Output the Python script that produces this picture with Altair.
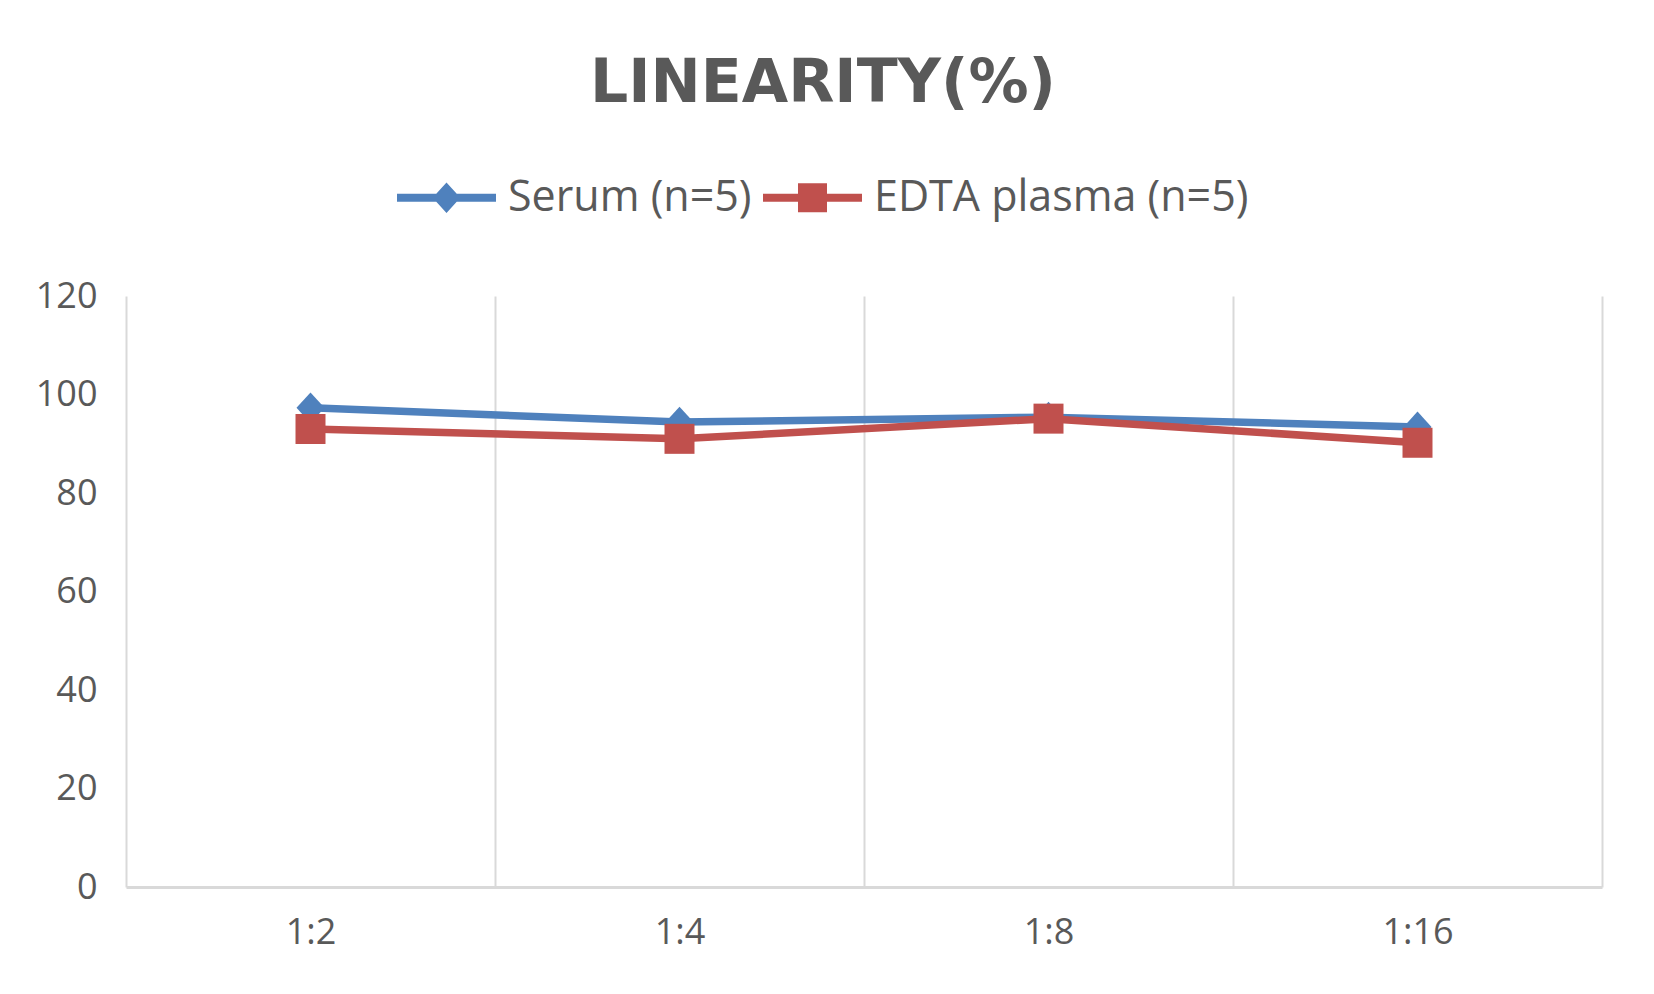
import altair as alt
import pandas as pd

dilutions = ["1:2", "1:4", "1:8", "1:16"]
serum = [97.3, 94.4, 95.4, 93.4]
edta = [93.0, 91.0, 95.1, 90.2]
series_names = ["Serum (n=5)", "EDTA plasma (n=5)"]
colors = ["#4F81BD", "#C0504D"]
y_ticks = [0, 20, 40, 60, 80, 100, 120]

rows = []
for name, vals in zip(series_names, [serum, edta]):
    for d, v in zip(dilutions, vals):
        rows.append({"dilution": d, "value": v, "series": name})
df = pd.DataFrame(rows)

TEXT = "#595959"
GRID = "#D9D9D9"

x_enc = alt.X(
    "dilution:N",
    sort=dilutions,
    scale=alt.Scale(type="band", paddingInner=0, paddingOuter=0),
    axis=alt.Axis(
        title=None, tickBand="extent", grid=True, gridColor=GRID, gridWidth=2,
        domainColor=GRID, domainWidth=3, ticks=False, labelAngle=0,
        labelFont="Open Sans", labelFontSize=36, labelColor=TEXT, labelPadding=28,
    ),
)
y_enc = alt.Y(
    "value:Q",
    scale=alt.Scale(domain=[0, 120], nice=False),
    axis=alt.Axis(
        title=None, values=y_ticks, grid=False, domain=False, ticks=False,
        labelFont="Open Sans", labelFontSize=36, labelColor=TEXT, labelPadding=29,
    ),
)

color_scale = alt.Scale(domain=series_names, range=colors)

base = alt.Chart(df)

lines = base.mark_line(strokeWidth=7.5, strokeCap="round", strokeJoin="round").encode(
    x=x_enc, y=y_enc,
    color=alt.Color("series:N", scale=color_scale, legend=None),
    order=alt.Order("x_order:Q"),
).transform_calculate(x_order="indexof(['1:2','1:4','1:8','1:16'], datum.dilution)")

points = base.mark_point(filled=True, opacity=1, strokeWidth=0).encode(
    x=x_enc, y=y_enc,
    color=alt.Color("series:N", scale=color_scale, legend=None),
    shape=alt.Shape(
        "series:N",
        scale=alt.Scale(domain=series_names,
                        range=["M0,-1.1L1,0L0,1.1L-1,0Z", "square"]),
        legend=None,
    ),
    size=alt.Size("series:N",
                  scale=alt.Scale(domain=series_names, range=[784, 900]),
                  legend=None),
)

legend_paths = [
    "M-1,-0.08L1,-0.08L1,0.08L-1,0.08Z M0,-0.31L0.28,0L0,0.31L-0.28,0Z",
    "M-1,-0.08L1,-0.08L1,0.08L-1,0.08Z M-0.293,-0.293L0.293,-0.293L0.293,0.293L-0.293,0.293Z",
]
legend_cfg = alt.Legend(
    orient="none", legendX=271, legendY=-148, direction="horizontal", title=None,
    symbolSize=9801, symbolStrokeWidth=0, symbolOpacity=1,
    labelFont="Open Sans", labelFontSize=43, labelColor=TEXT, labelOffset=12,
    columnPadding=11, padding=0, labelLimit=0,
)
legend_layer = base.mark_point(filled=True).encode(
    x=x_enc, y=y_enc,
    color=alt.Color("series:N", scale=color_scale, legend=legend_cfg),
    shape=alt.Shape("series:N",
                    scale=alt.Scale(domain=series_names, range=legend_paths),
                    legend=legend_cfg),
).transform_filter("false")

chart = alt.layer(lines, points, legend_layer).resolve_scale(
    color="independent", shape="independent", size="independent"
).properties(
    width=1476, height=591,
    autosize=alt.AutoSizeParams(type="none"),
    padding={"left": 118, "top": 288, "right": 44, "bottom": 90},
    background="white",
    title=alt.TitleParams(
        text="LINEARITY(%)", font="DejaVu Sans", fontSize=60, fontWeight="bold",
        color=TEXT, anchor="middle", frame="group", baseline="alphabetic",
        offset=45, dx=-41, dy=59,
    ),
).configure_view(stroke=None)

chart.save("out.html", embed_options={"renderer": "svg", "actions": False})
